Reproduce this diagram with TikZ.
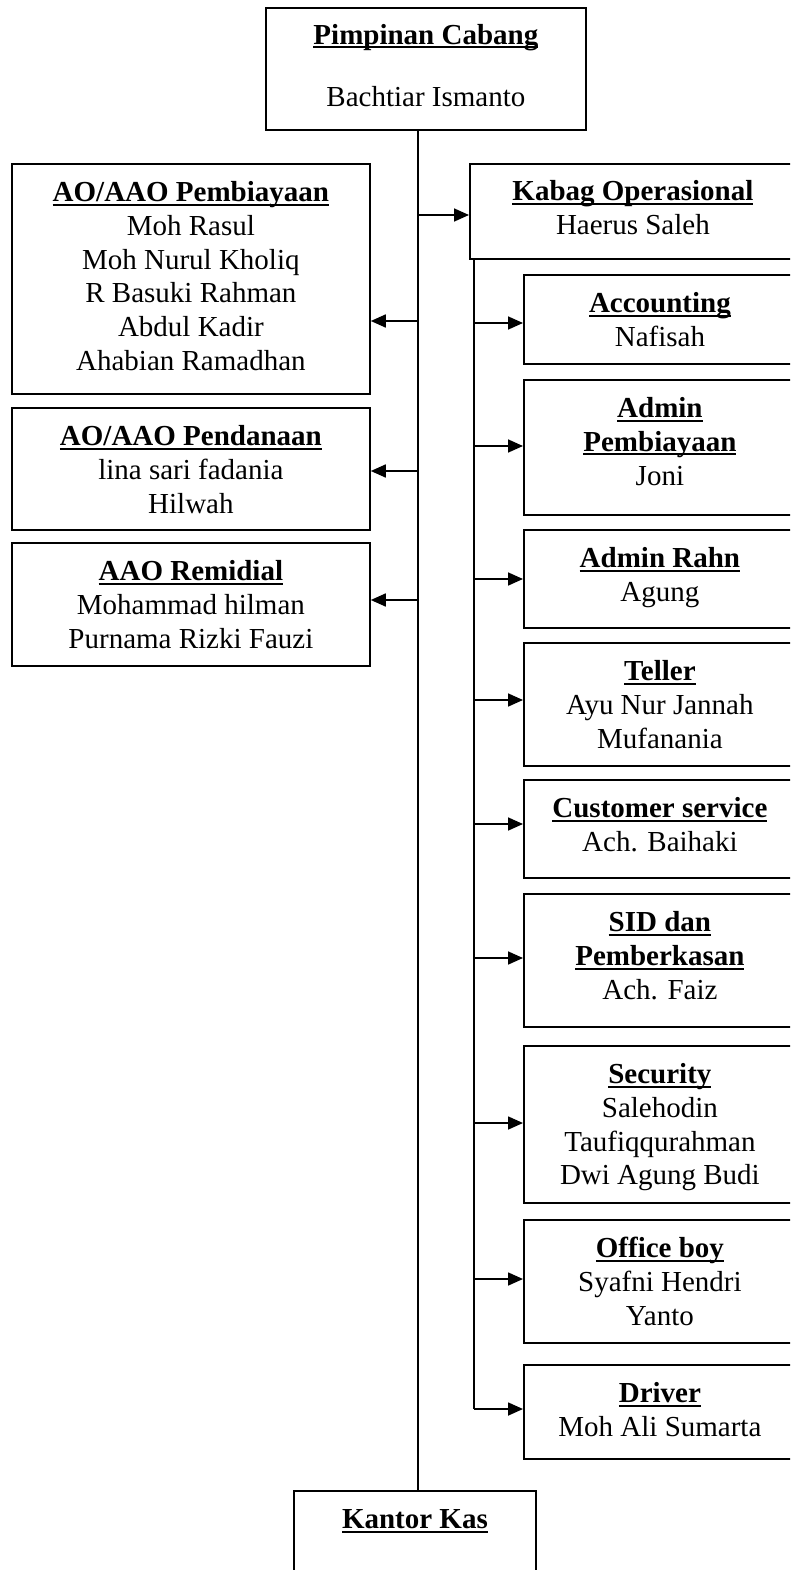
\documentclass[tikz,border=0pt]{standalone}
\usepackage{fontspec}
\setmainfont{Liberation Serif}
\usetikzlibrary{arrows.meta}

\newcommand{\hd}[1]{\strut\setbox0\hbox{\bfseries #1}\rlap{\rule[-4pt]{\wd0}{2pt}}\box0}

\begin{document}
\begin{tikzpicture}[x=1pt, y=-1pt, >={Triangle[length=15pt,width=13pt]},
  box/.style={draw, line width=1.8pt, inner sep=0, anchor=north west},
  lbox/.style={box, minimum width=358pt},
  rbox/.style={box, minimum width=272pt},
  txt/.style={align=center, inner sep=0, anchor=north,
    font=\fontsize{29}{33.7}\selectfont},
  link/.style={line width=1.7pt}]
  \useasboundingbox (0,0) rectangle (790,1570);
  \clip (0,0) rectangle (790,1570);
  \coordinate (spine) at (418,0);
  \coordinate (sub) at (474,0);

  % top and bottom
  \node[box, minimum width=320pt, minimum height=122pt] (pimpinan) at (265,7) {};
  \node[txt] (pimpinan-t) at ([yshift=-13.5pt]pimpinan.north) {\hd{Pimpinan Cabang}\\[28.8pt]Bachtiar Ismanto};
  \node[box, minimum width=242pt, minimum height=130pt] (kas) at (293,1490) {};
  \node[txt] (kas-t) at ([yshift=-14.9pt]kas.north) {\hd{Kantor Kas}};

  % left column
  \node[lbox, minimum height=230pt] (pembiayaan) at (11,163) {};
  \node[txt] (pembiayaan-t) at ([yshift=-15pt]pembiayaan.north) {\hd{AO/AAO Pembiayaan}\\Moh Rasul\\Moh Nurul Kholiq\\R Basuki Rahman\\Abdul Kadir\\Ahabian Ramadhan};
  \node[lbox, minimum height=122pt] (pendanaan) at (11,407) {};
  \node[txt] (pendanaan-t) at ([yshift=-15pt]pendanaan.north) {\hd{AO/AAO Pendanaan}\\lina sari fadania\\Hilwah};
  \node[lbox, minimum height=123pt] (remidial) at (11,542) {};
  \node[txt] (remidial-t) at ([yshift=-15pt]remidial.north) {\hd{AAO Remidial}\\Mohammad hilman\\Purnama Rizki Fauzi};

  % right column
  \node[box, minimum width=326pt, minimum height=95pt] (kabag) at (469,163) {};
  \node[txt] (kabag-t) at ([yshift=-14pt]kabag.north) {\hd{Kabag Operasional}\\Haerus Saleh};
  \node[rbox, minimum height=89pt] (acc) at (523,274) {};
  \node[txt] (acc-t) at ([yshift=-15pt]acc.north) {\hd{Accounting}\\Nafisah};
  \node[rbox, minimum height=135pt] (adminp) at (523,379) {};
  \node[txt] (adminp-t) at ([yshift=-15pt]adminp.north) {\hd{Admin}\\\hd{Pembiayaan}\\Joni};
  \node[rbox, minimum height=98pt] (rahn) at (523,529) {};
  \node[txt] (rahn-t) at ([yshift=-15pt]rahn.north) {\hd{Admin Rahn}\\Agung};
  \node[rbox, minimum height=123pt] (teller) at (523,642) {};
  \node[txt] (teller-t) at ([yshift=-15pt]teller.north) {\hd{Teller}\\Ayu Nur Jannah\\Mufanania};
  \node[rbox, minimum height=98pt] (cs) at (523,779) {};
  \node[txt] (cs-t) at ([yshift=-15pt]cs.north) {\hd{Customer service}\\Ach. Baihaki};
  \node[rbox, minimum height=133pt] (sid) at (523,893) {};
  \node[txt] (sid-t) at ([yshift=-15pt]sid.north) {\hd{SID dan}\\\hd{Pemberkasan}\\Ach. Faiz};
  \node[rbox, minimum height=157pt] (security) at (523,1045) {};
  \node[txt] (security-t) at ([yshift=-15pt]security.north) {\hd{Security}\\Salehodin\\Taufiqqurahman\\Dwi Agung Budi};
  \node[rbox, minimum height=123pt] (office) at (523,1219) {};
  \node[txt] (office-t) at ([yshift=-15pt]office.north) {\hd{Office boy}\\Syafni Hendri\\Yanto};
  \node[rbox, minimum height=94pt] (driver) at (523,1364) {};
  \node[txt] (driver-t) at ([yshift=-15pt]driver.north) {\hd{Driver}\\Moh Ali Sumarta};

  % lines
  \draw[link] (pimpinan.south -| spine) -- (kas.north -| spine);
  \foreach \n/\y in {pembiayaan/321, pendanaan/471, remidial/600} {
    \coordinate (a-\n) at (418,\y);
    \draw[link,->] (a-\n) -- (a-\n -| \n.east);
  }
  \coordinate (a-kabag) at (418,215);
  \draw[link,->] (a-kabag) -- (a-kabag -| kabag.west);
  \coordinate (a-driver) at (474,1409);
  \draw[link] (kabag.south -| sub) -- (a-driver);
  \foreach \n/\y in {acc/323, adminp/446, rahn/579, teller/700, cs/824, sid/958,
                     security/1123, office/1279, driver/1409} {
    \coordinate (a-\n) at (474,\y);
    \draw[link,->] (a-\n) -- (a-\n -| \n.west);
  }
\end{tikzpicture}
\end{document}
